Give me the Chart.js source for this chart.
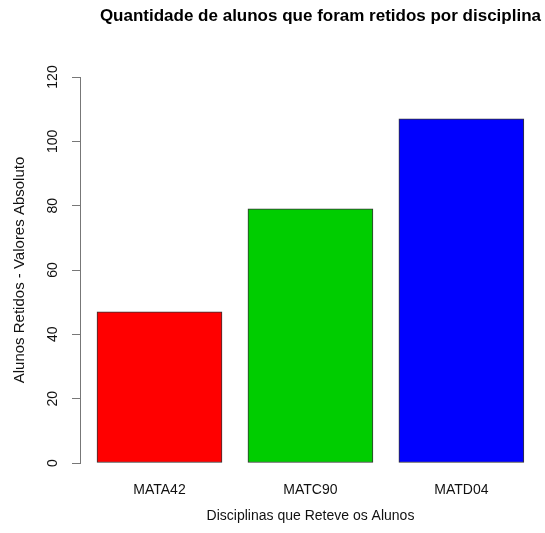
<!DOCTYPE html>
<html>
<head>
<meta charset="utf-8">
<script src="https://cdn.jsdelivr.net/npm/chart.js@4/dist/chart.umd.min.js"></script>
<style>
  html, body { margin: 0; padding: 0; background: #fff; }
  #wrap { width: 545px; height: 533px; }
</style>
</head>
<body>
<div id="wrap"><canvas id="retidosChart" width="545" height="533"></canvas></div>
<script>
// dados do gráfico
const disciplinas = ['MATA42', 'MATC90', 'MATD04'];
const retidos = [47, 79, 107];
const yTicks = [0, 20, 40, 60, 80, 100, 120];

// posição das barras no eixo x (como no barplot do R: largura 1, espaço 0.2)
const barPos = disciplinas.map((d, i) => 0.7 + i * 1.2);

const ctx = document.getElementById('retidosChart');

new Chart(ctx, {
    type: 'bar',
    data: {
        datasets: [{
            data: disciplinas.map((d, i) => ({ x: barPos[i], y: retidos[i] })),
            backgroundColor: ['#ff0000', '#00cd00', '#0000ff'],
            borderColor: '#333333',
            borderWidth: 1,
            borderSkipped: false,
            barThickness: 125
        }]
    },
    options: {
        responsive: false,
        animation: false,
        layout: { padding: { left: 0, right: 4, top: 0, bottom: 0 } },
        scales: {
            x: {
                type: 'linear',
                offset: false,
                min: 0.068,
                max: 3.733,
                afterBuildTicks: (scale) => {
                    scale.ticks = barPos.map(v => ({ value: v }));
                },
                afterFit: (scale) => { scale.height = 70; },
                ticks: {
                    callback: (value, index) => disciplinas[index],
                    autoSkip: false,
                    maxRotation: 0,
                    padding: 11,
                    color: '#111',
                    font: { family: 'Liberation Sans', size: 14 }
                },
                grid: { display: false },
                border: { display: false },
                title: {
                    display: true,
                    text: 'Disciplinas que Reteve os Alunos',
                    color: '#111',
                    font: { family: 'Liberation Sans', size: 14 },
                    padding: { top: 0, bottom: 8 }
                }
            },
            y: {
                min: 0,
                max: 120,
                afterBuildTicks: (scale) => {
                    scale.ticks = yTicks.map(v => ({ value: v }));
                },
                afterFit: (scale) => { scale.width = 80; },
                ticks: {
                    autoSkip: false,
                    minRotation: 90,
                    maxRotation: 90,
                    crossAlign: 'center',
                    padding: 7,
                    color: '#111',
                    font: { family: 'Liberation Sans', size: 14 }
                },
                grid: {
                    drawOnChartArea: false,
                    tickLength: 8,
                    color: '#777',
                    lineWidth: 1
                },
                border: { color: '#777', width: 1 },
                title: {
                    display: true,
                    text: 'Alunos Retidos - Valores Absoluto',
                    color: '#111',
                    font: { family: 'Liberation Sans', size: 15 },
                    padding: { top: 11, bottom: 0 }
                }
            }
        },
        plugins: {
            legend: { display: false },
            tooltip: { enabled: false },
            title: {
                display: true,
                text: 'Quantidade de alunos que foram retidos por disciplina',
                align: 'end',
                color: '#000',
                font: { family: 'Liberation Sans', size: 17, weight: 'bold' },
                padding: { top: 6, bottom: 50.6 }
            }
        }
    }
});
</script>
</body>
</html>
